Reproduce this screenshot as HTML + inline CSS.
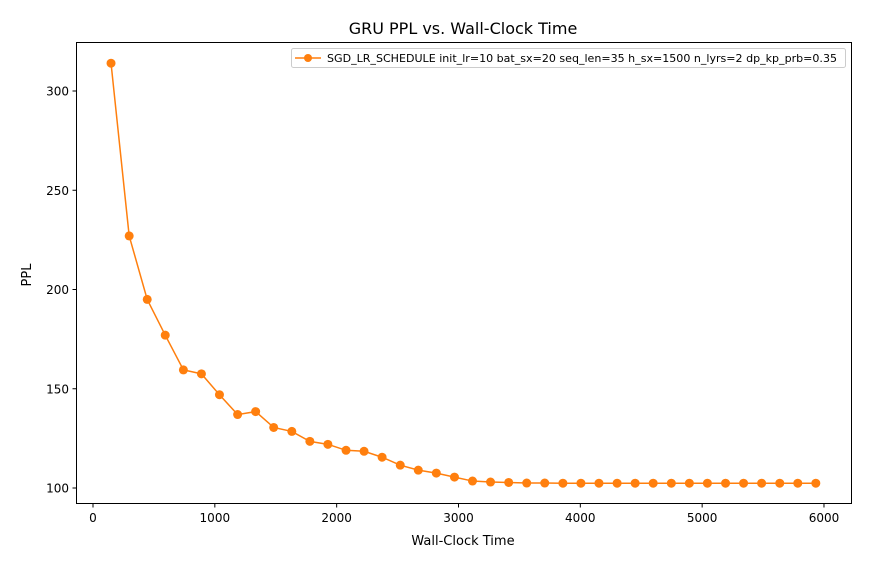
<!DOCTYPE html>
<html><head><meta charset="utf-8"><style>
body{margin:0;background:#fff;}
svg text{font-family:"DejaVu Sans","Liberation Sans",sans-serif;fill:#000;}
</style></head><body>
<svg id="chart" width="874" height="567" xmlns="http://www.w3.org/2000/svg">
<text x="463" y="34" font-size="16" text-anchor="middle">GRU PPL vs. Wall-Clock Time</text>
<rect x="76.5" y="42.5" width="775" height="461" fill="none" stroke="#000" stroke-width="1"/>
<g id="xticks"></g>
<g id="yticks"></g>
<text x="463" y="545" font-size="13" text-anchor="middle">Wall-Clock Time</text>
<text x="0" y="0" font-size="13" text-anchor="middle" transform="translate(31,275) rotate(-90)">PPL</text>
<g id="series"></g>
<g>
<rect x="291.5" y="48.5" width="554" height="19" rx="2" fill="#fff" stroke="#ccc"/>
<line x1="295" y1="58" x2="321" y2="58" stroke="#ff7f0e" stroke-width="1.5"/>
<circle cx="308" cy="58" r="4" fill="#ff7f0e"/>
<text x="327" y="62" font-size="11" textLength="510" lengthAdjust="spacingAndGlyphs">SGD_LR_SCHEDULE init_lr=10 bat_sx=20 seq_len=35 h_sx=1500 n_lyrs=2 dp_kp_prb=0.35</text>
</g>
</svg>
<script>
const times=[148,297,445,593,742,890,1038,1187,1335,1483,1632,1780,1928,2077,2225,2373,2522,2670,2818,2967,3115,3263,3412,3560,3708,3857,4005,4153,4302,4450,4598,4747,4895,5043,5192,5340,5488,5637,5785,5933];
const ppl=[314,227,195,177,159.5,157.5,147,137,138.5,130.5,128.5,123.5,122,119,118.5,115.5,111.5,109,107.5,105.5,103.5,103,102.8,102.5,102.5,102.4,102.4,102.4,102.4,102.4,102.4,102.4,102.4,102.4,102.4,102.4,102.4,102.4,102.4,102.4];
const xTickLabels=[0,1000,2000,3000,4000,5000,6000];
const yTickLabels=[100,150,200,250,300];
const NS="http://www.w3.org/2000/svg";
const xs=v=>93+v*0.12183;
const ys=v=>488-(v-100)*1.985;
function mk(tag,attrs,parent){const e=document.createElementNS(NS,tag);for(const k in attrs)e.setAttribute(k,attrs[k]);parent.appendChild(e);return e;}
const xg=document.getElementById('xticks'),yg=document.getElementById('yticks'),sg=document.getElementById('series');
xTickLabels.forEach(t=>{const x=xs(t);
 const l=mk('line',{x1:x,y1:503.5,x2:x,y2:507.5,stroke:'#000'},xg);
 
 
 const tx=mk('text',{x:x,y:522,'font-size':12,'text-anchor':'middle'},xg);tx.textContent=t;
 
 });
yTickLabels.forEach(t=>{const y=ys(t);
 const l=mk('line',{x1:72.5,y1:y,x2:76.5,y2:y,stroke:'#000'},yg);
 
 
 const tx=mk('text',{x:69,y:y+4.5,'font-size':12,'text-anchor':'end'},yg);tx.textContent=t;
 
 });
const pts=times.map((t,i)=>xs(t)+','+ys(ppl[i])).join(' ');
const pl=mk('polyline',{points:pts,fill:'none',stroke:'#ff7f0e','stroke-width':1.5},sg);


times.forEach((t,i)=>{const c=mk('circle',{cx:xs(t),cy:ys(ppl[i]),r:4.5,fill:'#ff7f0e'},sg);
 
 });
</script>
</body></html>
